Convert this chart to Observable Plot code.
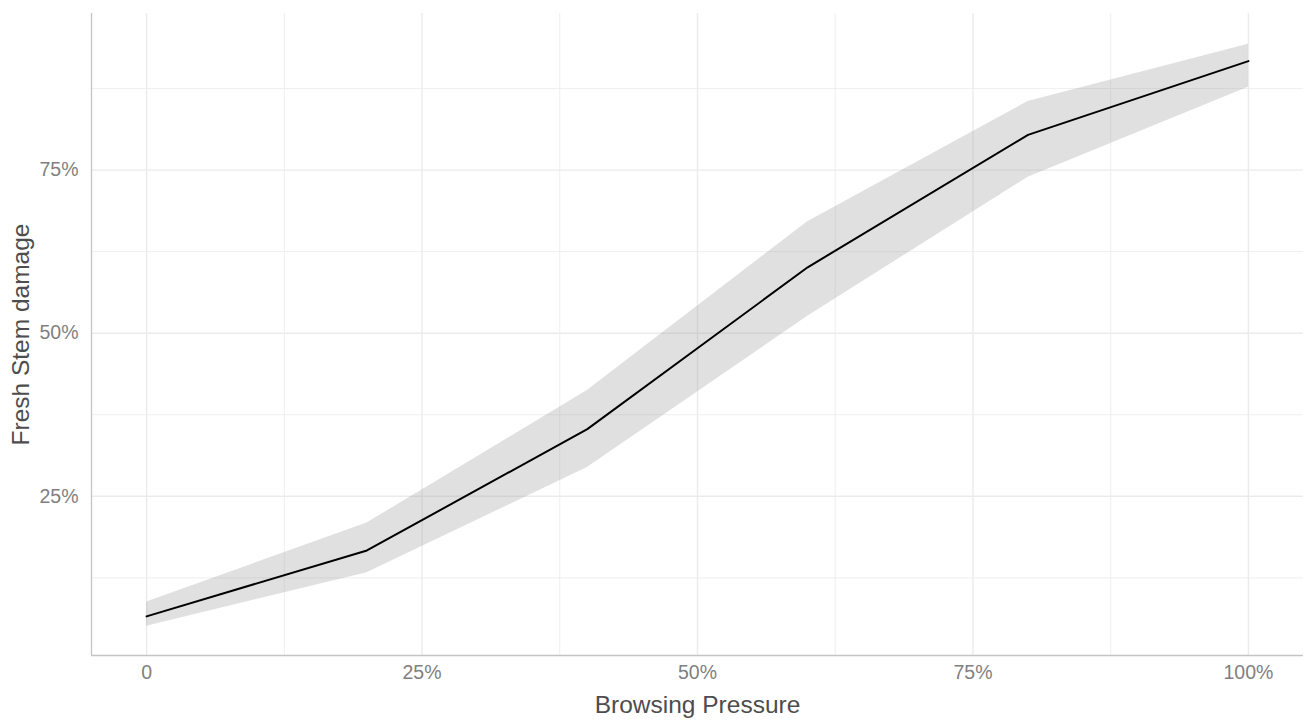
<!DOCTYPE html>
<html>
<head>
<meta charset="utf-8">
<script src="https://cdn.jsdelivr.net/npm/d3@7"></script>
<script src="https://cdn.jsdelivr.net/npm/@observablehq/plot@0.6"></script>
<style>
  html, body { margin: 0; padding: 0; background: #fff; }
</style>
</head>
<body>
<div id="chart"></div>
<script>
// Data
const pressure = [0, 0.2, 0.4, 0.6, 0.8, 1.0];
const damage   = [0.066, 0.167, 0.353, 0.601, 0.804, 0.917];
const lower    = [0.051, 0.133, 0.294, 0.526, 0.739, 0.877];
const upper    = [0.088, 0.209, 0.412, 0.671, 0.855, 0.943];

const xTicks = [0, 0.25, 0.5, 0.75, 1];
const xMinor = [0.125, 0.375, 0.625, 0.875];
const yTicks = [0.25, 0.5, 0.75];
const yMinor = [0.125, 0.375, 0.625, 0.875];

const rows = pressure.map((p, i) => ({p, d: damage[i], lo: lower[i], hi: upper[i]}));

const fmt = d => d === 0 ? "0" : d3.format(".0%")(d);
const xDom = [-0.05, 1.05];
const yDom = [0.006, 0.99];

const chart = Plot.plot({
  width: 1310,
  height: 720,
  marginLeft: 91,
  marginRight: 7,
  marginTop: 13,
  marginBottom: 65,
  style: {fontFamily: "'Liberation Sans', Arial, sans-serif", background: "#fff"},
  x: {domain: xDom},
  y: {domain: yDom},
  marks: [
    Plot.ruleX(xMinor, {stroke: "#ebebeb", strokeWidth: 0.8}),
    Plot.ruleY(yMinor, {stroke: "#ebebeb", strokeWidth: 0.8}),
    Plot.ruleX(xTicks, {stroke: "#ebebeb", strokeWidth: 1.4}),
    Plot.ruleY(yTicks, {stroke: "#ebebeb", strokeWidth: 1.4}),
    Plot.areaY(rows, {x: "p", y1: "lo", y2: "hi", fill: "#999999", fillOpacity: 0.3}),
    Plot.line(rows, {x: "p", y: "d", stroke: "#000", strokeWidth: 2}),
    Plot.ruleX([xDom[0]], {stroke: "#c4c4c4", strokeWidth: 1.3}),
    Plot.ruleY([yDom[0]], {stroke: "#c4c4c4", strokeWidth: 1.3}),
    Plot.axisX(xTicks, {
      tickSize: 0, tickPadding: 10, tickFormat: fmt,
      fontSize: 19.5, color: "#7f7f7f",
      label: null
    }),
    Plot.axisY(yTicks, {
      tickSize: 0, tickPadding: 13, tickFormat: fmt,
      fontSize: 19.5, color: "#7f7f7f",
      label: null
    }),
    Plot.axisX({ticks: [], label: "Browsing Pressure", labelAnchor: "center", labelArrow: "none",
      labelOffset: 57, fontSize: 24.5, color: "#4d4d4d"}),
    Plot.axisY({ticks: [], label: "Fresh Stem damage", labelAnchor: "center", labelArrow: "none",
      labelOffset: 80, fontSize: 24.5, color: "#4d4d4d"})
  ]
});
document.getElementById("chart").appendChild(chart);
</script>
</body>
</html>
